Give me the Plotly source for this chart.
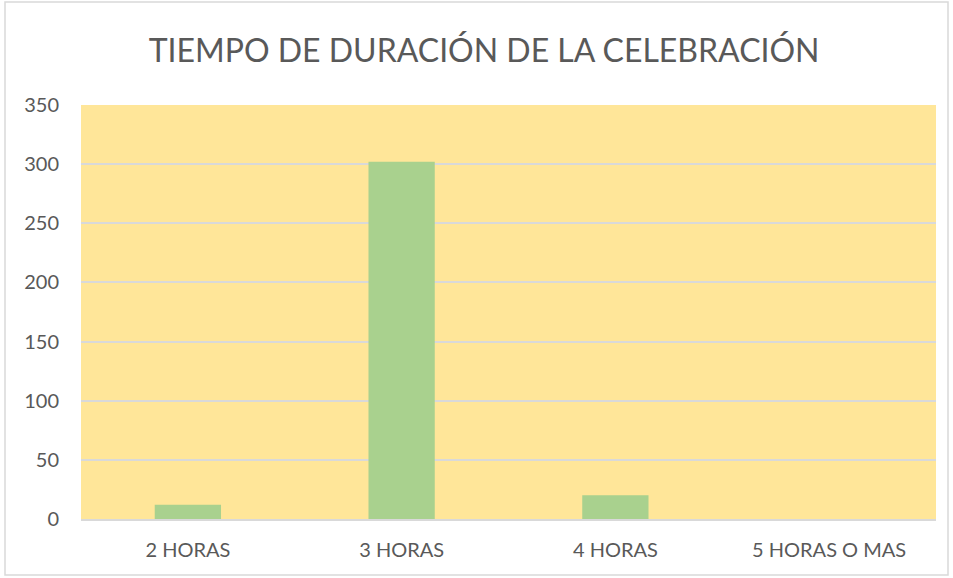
import plotly.graph_objects as go

categories = ["2 HORAS", "3 HORAS", "4 HORAS", "5 HORAS O MAS"]
values = [12, 302, 20, 0]
y_ticks = [0, 50, 100, 150, 200, 250, 300, 350]

W, H = 953, 578
L, R, T, B = 81, 17, 105, 59

fig = go.Figure(go.Bar(x=categories, y=values, marker=dict(color="#A9D18E", line=dict(width=0)),
                       width=0.31))

fig.update_layout(
    width=W, height=H,
    margin=dict(l=L, r=R, t=T, b=B),
    paper_bgcolor="white",
    plot_bgcolor="#FFE699",
    font=dict(family="Lato, Open Sans, sans-serif", color="#595959", size=19),
    title=dict(text="TIEMPO DE DURACIÓN DE LA CELEBRACIÓN", x=0.508, xanchor="center",
               y=1 - 51 / H, yanchor="middle",
               font=dict(size=32, color="#595959", family="Lato, Open Sans, sans-serif")),
    bargap=0.69,
    showlegend=False,
    xaxis=dict(showgrid=False, showline=True, linecolor="#d9d9d9", linewidth=2, ticks="",
               tickfont=dict(size=20), ticklabelstandoff=12),
    yaxis=dict(range=[0, 350], tickvals=y_ticks, showgrid=True, gridcolor="#d9d9d9", gridwidth=2,
               zeroline=False, showline=False, ticks="", tickfont=dict(size=20),
               ticklabelstandoff=21),
)

# outer chart border
fig.add_shape(type="rect", xref="paper", yref="paper",
              x0=(5 - L) / (W - L - R), x1=(948 - L) / (W - L - R),
              y0=-(575 - (H - B)) / (H - T - B), y1=1 + (T - 2) / (H - T - B),
              line=dict(color="#d9d9d9", width=1.5), layer="below")

fig.write_html("out.html", config={"displayModeBar": False},
               post_script="document.body.style.margin='0';document.body.style.overflow='hidden';")
